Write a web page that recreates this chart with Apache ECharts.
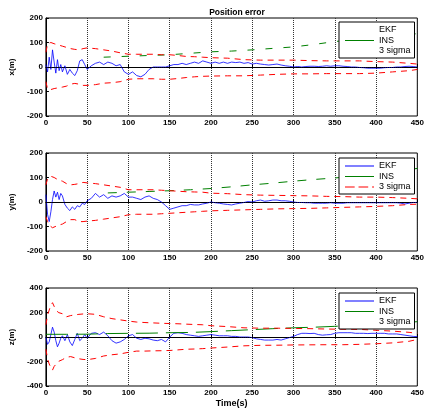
<!DOCTYPE html>
<html>
<head>
<meta charset="utf-8">
<script src="https://cdn.jsdelivr.net/npm/echarts@6/dist/echarts.min.js"></script>
<style>
html, body { margin: 0; padding: 0; background: #fff; }
#main { width: 427px; height: 410px; }
</style>
</head>
<body>
<div id="main"></div>
<script>
// time stamps (s)
var tEkf = [0, 2, 4, 6, 8, 10, 12, 14, 16, 18, 20,
    23, 26, 29, 32, 35, 38, 41, 44, 47, 50,
    55, 60, 65, 70, 75, 80, 85, 90, 95, 100,
    105, 110, 115, 120, 125, 130, 135, 140, 145, 150,
    155, 160, 165, 170, 175, 180, 185, 190, 195, 200,
    205, 210, 215, 220, 225, 230, 235, 240, 245, 250,
    255, 260, 265, 270, 275, 280, 285, 290, 295, 300,
    305, 310, 315, 320, 325, 330, 335, 340, 345, 350,
    355, 360, 365, 370, 375, 380, 385, 390, 395, 400,
    405, 410, 415, 420, 425, 430, 435, 440, 445, 450];
var tSig = [0, 2, 4, 6, 8, 10, 15, 20, 25, 30, 35, 40, 45, 50,
    60, 70, 80, 90, 100, 110, 120, 130, 140, 150, 160, 170, 180, 190, 200,
    220, 240, 260, 280, 300, 320, 340, 360, 380, 400, 420, 440, 450];

// EKF position error
var ekfX = [10, -20, 40, -10, 70, 20, -25, 30, -15, 10, -20,
    5, -30, -10, -25, -35, -15, 25, 30, 10, -10,
    5, 15, 20, 10, 20, 15, 5, 10, -20, -30,
    -20, -35, -40, -30, -10, 0, 0, 0, 0, 5,
    10, 10, 15, 10, 15, 20, 15, 25, 20, 15,
    20, 15, 20, 15, 20, 18, 20, 15, 18, 12,
    15, 12, 10, 8, 10, 12, 8, 5, 3, 0,
    2, 0, 2, 3, 3, 2, 3, 5, 3, 5,
    5, 3, 2, 0, 0, -2, -3, -5, -5, -5,
    -5, -3, -2, -2, 0, 0, 2, 3, 2, 0];
var ekfY = [30, -50, -80, -40, 10, 45, 20, 40, 10, 35, 25,
    -10, -25, -35, -20, -30, -15, -20, -5, -10, 5,
    15, 35, 20, 30, 15, 25, 20, 25, 35, 20,
    20, 15, 10, 20, 25, 15, 10, 0, -15, -30,
    -25, -20, -15, -15, -10, -12, -12, -8, -5, 0,
    -3, -5, -8, -10, -12, -8, -5, -2, 2, 0,
    5, 8, 3, 5, 8, 8, 5, 5, 3, 0,
    -2, -2, -3, -3, -5, -5, -5, -5, -3, -5,
    -5, -5, -3, -3, -3, -3, -3, -3, -3, -3,
    -3, -3, -3, -3, -3, -5, -8, -5, -2, -2];
var ekfZ = [0, -60, -40, 20, 80, 40, -30, -80, -50, -10, 10,
    -30, 20, -40, -70, -20, 30, -30, -10, 20, -10,
    30, 35, 20, 40, 10, -30, -50, -40, -20, 10,
    20, -10, -20, -10, -15, -25, -30, -20, -40, 0,
    30, 35, 30, 20, 15, 10, 5, 10, 15, 20,
    15, 10, 10, 10, 5, 5, 0, 0, 0, -5,
    -15, -20, -25, -25, -25, -20, -25, -15, -5, 5,
    20, 30, 30, 28, 30, 20, 15, 18, 20, 30,
    35, 35, 35, 35, 30, 30, 30, 28, 30, 30,
    30, 30, 25, 25, 25, 20, 15, 10, 5, 3];

// 3 sigma bounds
var sigXUp = [60, 95, 100, 100, 95, 95, 90, 85, 80, 75, 72, 70, 75, 78,
    75, 70, 65, 58, 52, 52, 52, 52, 50, 50, 47, 43, 42, 40, 38,
    36, 30, 28, 28, 28, 26, 25, 25, 25, 22, 20, 15, 12];
var sigXLo = [-60, -90, -95, -92, -90, -88, -85, -82, -78, -70, -67, -70, -75, -75,
    -72, -66, -64, -60, -50, -48, -48, -48, -50, -50, -47, -43, -40, -38, -37,
    -36, -36, -33, -30, -28, -28, -27, -27, -27, -25, -20, -15, -10];
var sigYUp = [70, 95, 100, 105, 105, 100, 90, 85, 75, 70, 72, 75, 80, 78,
    75, 70, 65, 60, 50, 50, 50, 50, 48, 46, 44, 42, 41, 40, 36,
    34, 30, 28, 27, 26, 25, 23, 22, 20, 20, 18, 15, 13];
var sigYLo = [-60, -80, -95, -100, -105, -100, -95, -90, -80, -72, -72, -80, -80, -78,
    -75, -70, -65, -60, -52, -50, -50, -50, -48, -46, -44, -42, -40, -38, -36,
    -34, -32, -30, -28, -27, -26, -24, -22, -20, -18, -15, -10, -9];
var sigZUp = [100, 180, 220, 260, 280, 250, 200, 190, 165, 175, 180, 185, 188, 190,
    185, 165, 150, 140, 130, 122, 118, 115, 112, 110, 108, 105, 102, 100, 92,
    85, 75, 72, 72, 70, 68, 65, 63, 62, 55, 48, 38, 30];
var sigZLo = [-100, -180, -220, -250, -270, -240, -200, -185, -165, -160, -170, -178, -183, -185,
    -175, -155, -145, -138, -125, -115, -115, -113, -112, -110, -105, -100, -98, -95, -90,
    -82, -72, -68, -67, -65, -64, -63, -63, -60, -55, -48, -35, -20];

// INS position error
var tInsX = [70, 100, 125, 150, 175, 200, 225, 250, 275, 300, 325, 350, 375, 400, 425, 450];
var insX = [40, 44, 47, 50, 56, 62, 65, 70, 76, 82, 92, 104, 112, 120, 128, 136];
var tInsY = [75, 100, 125, 150, 175, 200, 225, 250, 275, 300, 325, 350, 375, 400, 425, 450];
var insY = [37, 40, 43, 46, 50, 55, 62, 70, 77, 85, 92, 98, 105, 115, 125, 137];
var tInsZ = [0, 25, 50, 75, 100, 125, 150, 175, 200, 225, 250, 275, 300, 325, 350, 375, 400, 425, 450];
var insZ = [22, 22, 23, 28, 30, 31, 35, 37, 44, 52, 60, 68, 75, 80, 87, 95, 105, 115, 125];

var yNames = ['x(m)', 'y(m)', 'z(m)'];
var yMax = [200, 200, 400];
var yStep = [100, 100, 200];
var gridTops = [18, 153, 288];

function pts(t, v) {
    return t.map(function (x, i) { return [x, v[i]]; });
}

var ekf = [ekfX, ekfY, ekfZ];
var ins = [[tInsX, insX], [tInsY, insY], [tInsZ, insZ]];
var sigUp = [sigXUp, sigYUp, sigZUp];
var sigLo = [sigXLo, sigYLo, sigZLo];
var insDash = [[7, 11], [9, 10], [22, 8]];

var tickFont = { fontFamily: 'Liberation Sans', fontSize: 8, fontWeight: 'bold', color: '#000' };

var grids = [], xAxes = [], yAxes = [], series = [], legends = [];
// which legend lines are visible in each panel
var legendShow = [[0, 1, 0], [1, 1, 1], [1, 1, 0]];
var names = ['EKF', 'INS', '3 sigma'];
var colors = ['#0000ff', '#008000', '#ff0000'];
var icons = ['rect', 'rect', 'path://M0,0h10v1h-10z M14,0h10v1h-10z M28,0h2v1h-2z'];

for (var i = 0; i < 3; i++) {
    grids.push({ left: 45, top: gridTops[i], width: 375, height: 98,
        show: true, borderColor: '#000', borderWidth: 1, backgroundColor: '#fff' });
    xAxes.push({
        type: 'value', gridIndex: i, min: 0, max: 450, interval: 50,
        axisLine: { show: true, lineStyle: { color: '#000', width: 1 } },
        axisTick: { inside: true, length: 3, lineStyle: { color: '#000' } },
        axisLabel: Object.assign({ margin: 3 }, tickFont),
        splitLine: { show: true, lineStyle: { color: '#333', type: 'dotted', width: 1 } },
        name: i === 2 ? 'Time(s)' : '',
        nameLocation: 'middle', nameGap: 13,
        nameTextStyle: { fontFamily: 'Liberation Sans', fontSize: 9, fontWeight: 'bold', color: '#000' }
    });
    yAxes.push({
        type: 'value', gridIndex: i, min: -yMax[i], max: yMax[i], interval: yStep[i],
        axisLine: { show: true, lineStyle: { color: '#000', width: 1 } },
        axisTick: { inside: true, length: 3, lineStyle: { color: '#000' } },
        axisLabel: Object.assign({ margin: 3 }, tickFont),
        splitLine: { show: false },
        name: yNames[i], nameLocation: 'middle', nameGap: 27, nameRotate: 90,
        nameTextStyle: { fontFamily: 'Liberation Sans', fontSize: 8, fontWeight: 'bold', color: '#000' }
    });
    series.push({
        name: 'EKF', type: 'line', xAxisIndex: i, yAxisIndex: i, symbol: 'none',
        data: pts(tEkf, ekf[i]), color: colors[0],
        lineStyle: { width: 0.8, color: colors[0] },
        markLine: {
            silent: true, symbol: ['none', 'none'], label: { show: false },
            lineStyle: { color: '#000', type: 'dotted', width: 1 },
            data: [{ yAxis: 0 }]
        }
    });
    series.push({
        name: 'INS', type: 'line', xAxisIndex: i, yAxisIndex: i, symbol: 'none',
        data: pts(ins[i][0], ins[i][1]), color: colors[1],
        lineStyle: { width: 1, color: colors[1], type: insDash[i] }
    });
    series.push({
        name: '3 sigma', type: 'line', xAxisIndex: i, yAxisIndex: i, symbol: 'none',
        data: pts(tSig, sigUp[i]), color: colors[2],
        lineStyle: { width: 1, color: colors[2], type: [6, 5] }
    });
    series.push({
        name: '3 sigma', type: 'line', xAxisIndex: i, yAxisIndex: i, symbol: 'none',
        data: pts(tSig, sigLo[i]), color: colors[2],
        lineStyle: { width: 1, color: colors[2], type: [6, 5] }
    });
    legends.push({
        left: 339, top: gridTops[i] + 4 + (i === 0 ? 0 : 1), orient: 'vertical',
        itemWidth: 29, itemHeight: 1, itemGap: 0.5, padding: [3, 4, 2, 6],
        backgroundColor: '#fff', borderColor: '#000', borderWidth: 1,
        selectedMode: false,
        textStyle: { fontFamily: 'Liberation Sans', fontSize: 9, color: '#000', lineHeight: 10 },
        data: names.map(function (n, k) {
            return { name: n, icon: icons[k],
                itemStyle: { color: colors[k], opacity: legendShow[i][k] } };
        })
    });
}

var myChart = echarts.init(document.getElementById('main'));
myChart.setOption({
    animation: false,
    backgroundColor: '#fff',
    title: {
        text: 'Position error', left: 232, top: 3, textAlign: 'center',
        textStyle: { fontFamily: 'Liberation Sans', fontSize: 8.5, fontWeight: 'bold', color: '#000' }
    },
    legend: legends,
    grid: grids,
    xAxis: xAxes,
    yAxis: yAxes,
    series: series
});
</script>
</body>
</html>
